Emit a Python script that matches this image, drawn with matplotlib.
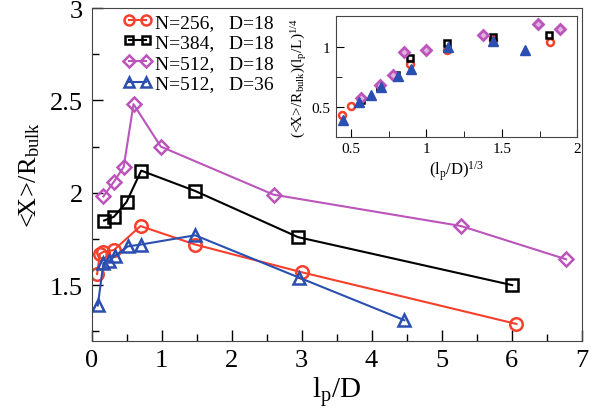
import matplotlib
matplotlib.use("Agg")
import matplotlib.pyplot as plt
from matplotlib.ticker import MultipleLocator, FormatStrFormatter

plt.rcParams['font.family'] = ['Liberation Serif', 'DejaVu Serif']
plt.rcParams['mathtext.fontset'] = 'custom'
plt.rcParams['mathtext.rm'] = 'Liberation Serif'
plt.rcParams['mathtext.it'] = 'Liberation Serif:italic'

# main panel: <X>/R_bulk vs l_p/D
red_x = [0.08, 0.12, 0.17, 0.32, 0.70, 1.48, 3.0, 6.07]
red_y = [1.56, 1.67, 1.68, 1.69, 1.82, 1.72, 1.57, 1.29]
black_x = [0.18, 0.32, 0.50, 0.71, 1.48, 2.95, 6.01]
black_y = [1.85, 1.87, 1.95, 2.12, 2.01, 1.76, 1.50]
purple_x = [0.17, 0.32, 0.46, 0.60, 0.99, 2.60, 5.28, 6.78]
purple_y = [1.98, 2.06, 2.14, 2.48, 2.25, 1.99, 1.82, 1.64]
blue_x = [0.09, 0.17, 0.25, 0.34, 0.52, 0.71, 1.48, 2.97, 4.47]
blue_y = [1.39, 1.62, 1.63, 1.66, 1.71, 1.72, 1.77, 1.54, 1.31]

# inset: scaled values vs (l_p/D)^(1/3)
red_ix = [0.44, 0.50, 0.566, 0.69, 0.888, 1.136, 1.44, 1.82]
red_iy = [0.434, 0.508, 0.563, 0.66, 0.856, 0.973, 1.05, 1.04]
black_ix = [0.566, 0.69, 0.80, 0.888, 1.136, 1.44, 1.815]
black_iy = [0.56, 0.665, 0.76, 0.905, 1.033, 1.077, 1.093]
purple_ix = [0.566, 0.694, 0.778, 0.848, 0.999, 1.378, 1.74, 1.888]
purple_iy = [0.57, 0.678, 0.76, 0.951, 0.97, 1.098, 1.19, 1.145]
blue_ix = [0.45, 0.55, 0.634, 0.70, 0.81, 0.90, 1.14, 1.44, 1.65]
blue_iy = [0.393, 0.536, 0.596, 0.66, 0.754, 0.817, 1.0, 1.047, 0.973]

labels = ["N=256,   D=18", "N=384,   D=18", "N=512,   D=18", "N=512,   D=36"]
red, black, purple, blue = "#f5402c", "black", "#bb55bb", "#2a4fb0"

fig = plt.figure(figsize=(6.02, 4.14), dpi=100)
ax = fig.add_axes([0.152, 0.175, 0.814, 0.803])

ax.plot(red_x, red_y, '-o', color=red, mfc='none', ms=9, mew=1.8, lw=1.5, label=labels[0])
ax.plot(black_x, black_y, '-s', color=black, mfc='none', ms=8, mew=1.8, lw=1.5, label=labels[1])
ax.plot(purple_x, purple_y, '-D', color=purple, mfc='none', ms=7.5, mew=1.8, lw=1.5, label=labels[2])
ax.plot(blue_x, blue_y, '-^', color=blue, mfc='none', ms=9, mew=1.8, lw=1.5, label=labels[3])

ax.set_xlim(0, 7)
ax.set_ylim(1.2, 3.0)
ax.xaxis.set_major_locator(MultipleLocator(1))
ax.xaxis.set_minor_locator(MultipleLocator(0.5))
ax.yaxis.set_major_locator(MultipleLocator(0.5))
ax.yaxis.set_minor_locator(MultipleLocator(0.25))
ax.xaxis.set_major_formatter(FormatStrFormatter('%g'))
ax.yaxis.set_major_formatter(FormatStrFormatter('%g'))
ax.tick_params(which='both', direction='in', top=False, right=False, labelsize=19, pad=6)
ax.tick_params(which='major', length=8, width=1)
ax.tick_params(which='minor', length=5, width=1)
ax.set_xlabel(r"l$_{\rm p}$/D", fontsize=21, labelpad=2)
ax.set_ylabel(r"<X>/R$_{\rm bulk}$", fontsize=19, labelpad=6)
for s in ax.spines.values():
    s.set_color('#444444')

ax.legend(loc='upper left', bbox_to_anchor=(0.04, 1.02), frameon=False, numpoints=2,
          fontsize=14, handlelength=1.5, handletextpad=0.15, labelspacing=0.15,
          borderaxespad=0.2, markerscale=0.8)

ins = fig.add_axes([0.558, 0.667, 0.401, 0.291])
ins.plot(red_ix, red_iy, 'o', color=red, mfc='none', ms=5, mew=1.8, ls='none')
ins.plot(black_ix, black_iy, 's', color=black, mfc='none', ms=5, mew=1.8, ls='none')
ins.plot(purple_ix, purple_iy, 'D', color=purple, mfc='#e0b0e0', ms=5, mew=2, ls='none')
ins.plot(blue_ix, blue_iy, '^', color=blue, ms=6.5, ls='none')
ins.set_xlim(0.4, 2.0)
ins.set_ylim(0.25, 1.25)
ins.xaxis.set_major_locator(MultipleLocator(0.5))
ins.xaxis.set_minor_locator(MultipleLocator(0.25))
ins.yaxis.set_major_locator(MultipleLocator(0.5))
ins.yaxis.set_minor_locator(MultipleLocator(0.25))
ins.xaxis.set_major_formatter(FormatStrFormatter('%g'))
ins.yaxis.set_major_formatter(FormatStrFormatter('%g'))
ins.tick_params(which='both', direction='in', top=False, right=False, labelsize=11, pad=4)
ins.tick_params(which='major', length=6)
ins.tick_params(which='minor', length=4)
ins.set_xlabel(r"(l$_{\rm p}$/D)$^{1/3}$", fontsize=12, labelpad=2)
ins.set_ylabel(r"(<X>/R$_{\rm bulk}$)(l$_{\rm p}$/L)$^{1/4}$", fontsize=11, labelpad=2)
for s in ins.spines.values():
    s.set_color('#444444')

fig.savefig("out.png", dpi=100)
